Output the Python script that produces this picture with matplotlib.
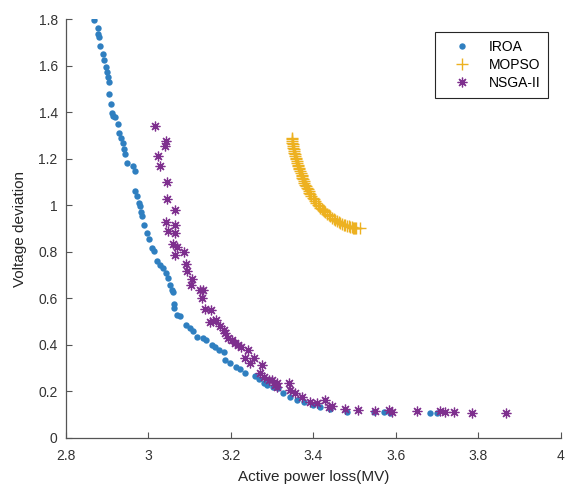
import matplotlib.pyplot as plt
from matplotlib.ticker import FormatStrFormatter

plt.rcParams['font.family'] = ['Liberation Sans', 'DejaVu Sans']

# IROA front
iroa_x = [2.869, 2.877, 2.878, 2.880, 2.883, 2.889, 2.893, 2.896, 2.899, 2.901,
          2.904, 2.905, 2.909, 2.911, 2.915, 2.919, 2.925, 2.929, 2.933, 2.938,
          2.941, 2.944, 2.947, 2.963, 2.967, 2.967, 2.972, 2.977, 2.980, 2.982,
          2.985, 2.989, 2.997, 3.002, 3.008, 3.014, 3.020, 3.028, 3.036, 3.042,
          3.047, 3.052, 3.058, 3.060, 3.062, 3.062, 3.070, 3.077, 3.091, 3.101,
          3.109, 3.117, 3.133, 3.140, 3.154, 3.162, 3.170, 3.182, 3.186, 3.198,
          3.213, 3.222, 3.234, 3.259, 3.267, 3.279, 3.287, 3.303, 3.315, 3.327,
          3.344, 3.360, 3.376, 3.400, 3.417, 3.441, 3.481, 3.546, 3.570, 3.586,
          3.683, 3.700]
iroa_y = [1.796, 1.760, 1.736, 1.721, 1.685, 1.649, 1.624, 1.592, 1.571, 1.552,
          1.528, 1.477, 1.437, 1.398, 1.384, 1.377, 1.348, 1.312, 1.291, 1.269,
          1.240, 1.219, 1.183, 1.168, 1.147, 1.061, 1.039, 1.008, 0.996, 0.970,
          0.953, 0.914, 0.882, 0.853, 0.817, 0.802, 0.759, 0.745, 0.731, 0.709,
          0.688, 0.659, 0.637, 0.626, 0.577, 0.559, 0.530, 0.522, 0.487, 0.472,
          0.458, 0.436, 0.429, 0.422, 0.401, 0.391, 0.379, 0.369, 0.336, 0.322,
          0.307, 0.296, 0.281, 0.267, 0.253, 0.238, 0.228, 0.221, 0.214, 0.193,
          0.178, 0.164, 0.156, 0.142, 0.135, 0.124, 0.113, 0.113, 0.113, 0.109,
          0.106, 0.106]

# MOPSO front (dense band)
mopso_x = [3.347, 3.348, 3.348, 3.349, 3.350, 3.350, 3.351, 3.352, 3.353, 3.354,
           3.355, 3.356, 3.357, 3.358, 3.359, 3.360, 3.362, 3.363, 3.365, 3.366,
           3.368, 3.369, 3.371, 3.372, 3.373, 3.374, 3.376, 3.378, 3.380, 3.382,
           3.384, 3.386, 3.388, 3.390, 3.392, 3.395, 3.398, 3.401, 3.404, 3.407,
           3.410, 3.414, 3.417, 3.420, 3.423, 3.426, 3.429, 3.433, 3.437, 3.441,
           3.445, 3.449, 3.453, 3.457, 3.461, 3.465, 3.469, 3.473, 3.477, 3.481,
           3.485, 3.489, 3.493, 3.496, 3.498, 3.501, 3.503, 3.514]
mopso_y = [1.291, 1.283, 1.275, 1.268, 1.261, 1.254, 1.247, 1.240, 1.233, 1.226,
           1.218, 1.211, 1.204, 1.197, 1.190, 1.182, 1.175, 1.168, 1.161, 1.154,
           1.147, 1.140, 1.132, 1.125, 1.118, 1.111, 1.104, 1.096, 1.089, 1.082,
           1.075, 1.068, 1.061, 1.054, 1.047, 1.040, 1.032, 1.025, 1.017, 1.010,
           1.003, 0.996, 0.990, 0.985, 0.980, 0.975, 0.969, 0.964, 0.958, 0.953,
           0.947, 0.942, 0.937, 0.932, 0.928, 0.924, 0.920, 0.917, 0.914, 0.911,
           0.909, 0.907, 0.905, 0.904, 0.903, 0.903, 0.902, 0.902]

# NSGA-II front
nsga_x = [3.016, 3.042, 3.040, 3.022, 3.028, 3.044, 3.046, 3.065, 3.043, 3.065,
          3.048, 3.065, 3.059, 3.069, 3.086, 3.065, 3.091, 3.093, 3.105, 3.103,
          3.125, 3.133, 3.129, 3.136, 3.148, 3.151, 3.156, 3.164, 3.174, 3.182,
          3.186, 3.192, 3.202, 3.210, 3.216, 3.224, 3.242, 3.234, 3.245, 3.256,
          3.275, 3.271, 3.279, 3.291, 3.307, 3.311, 3.299, 3.311, 3.340, 3.344,
          3.356, 3.372, 3.392, 3.408, 3.429, 3.437, 3.445, 3.477, 3.507, 3.550,
          3.582, 3.590, 3.651, 3.708, 3.720, 3.740, 3.785, 3.866]
nsga_y = [1.341, 1.276, 1.255, 1.211, 1.168, 1.100, 1.028, 0.978, 0.927, 0.913,
          0.888, 0.882, 0.835, 0.821, 0.798, 0.788, 0.748, 0.716, 0.683, 0.656,
          0.637, 0.637, 0.602, 0.554, 0.497, 0.551, 0.501, 0.505, 0.479, 0.465,
          0.451, 0.429, 0.422, 0.410, 0.401, 0.391, 0.379, 0.343, 0.322, 0.343,
          0.314, 0.279, 0.261, 0.250, 0.228, 0.218, 0.250, 0.236, 0.236, 0.207,
          0.193, 0.178, 0.156, 0.149, 0.164, 0.135, 0.138, 0.124, 0.121, 0.118,
          0.121, 0.113, 0.118, 0.118, 0.113, 0.112, 0.109, 0.109]

fig = plt.figure(figsize=(5.65, 4.88), dpi=100)
ax = fig.add_axes([0.1168, 0.1025, 0.876, 0.8585])

ax.plot(iroa_x, iroa_y, linestyle='none', marker='o', markersize=4.6,
        color='#2F7FC0', markeredgewidth=0, label='IROA')
ax.plot(mopso_x, mopso_y, linestyle='none', marker='+', markersize=8,
        color='#EDB120', markeredgewidth=1.0, label='MOPSO')
ax.plot(nsga_x, nsga_y, linestyle='none', marker=(8, 2, 0), markersize=7,
        color='#7E2F8E', markeredgewidth=0.9, label='NSGA-II')

ax.set_xlim(2.8, 4)
ax.set_ylim(0, 1.8)
ax.set_xticks([2.8, 3, 3.2, 3.4, 3.6, 3.8, 4])
ax.set_yticks([0, 0.2, 0.4, 0.6, 0.8, 1, 1.2, 1.4, 1.6, 1.8])
ax.xaxis.set_major_formatter(FormatStrFormatter('%g'))
ax.yaxis.set_major_formatter(FormatStrFormatter('%g'))
ax.tick_params(direction='in', length=4, width=0.8, colors='#555555',
               labelcolor='#333333', labelsize=10)
ax.tick_params(axis='y', pad=6)
ax.tick_params(axis='x', pad=8)

ax.spines['top'].set_visible(False)
ax.spines['right'].set_visible(False)
for s in ['left', 'bottom']:
    ax.spines[s].set_color('#555555')
    ax.spines[s].set_linewidth(0.9)

ax.set_xlabel('Active power loss(MV)', fontsize=11, color='#262626', labelpad=5)
ax.set_ylabel('Voltage deviation', fontsize=11, color='#262626', labelpad=8)

leg = ax.legend(loc='upper right', bbox_to_anchor=(0.970, 0.934),
                bbox_transform=fig.transFigure, borderaxespad=0, fontsize=10,
                fancybox=False, edgecolor='#262626', framealpha=1,
                handlelength=2.75, handletextpad=0.55, borderpad=0.55,
                labelspacing=0.3)
leg.get_frame().set_linewidth(0.8)

fig.savefig('out.png', dpi=100)
